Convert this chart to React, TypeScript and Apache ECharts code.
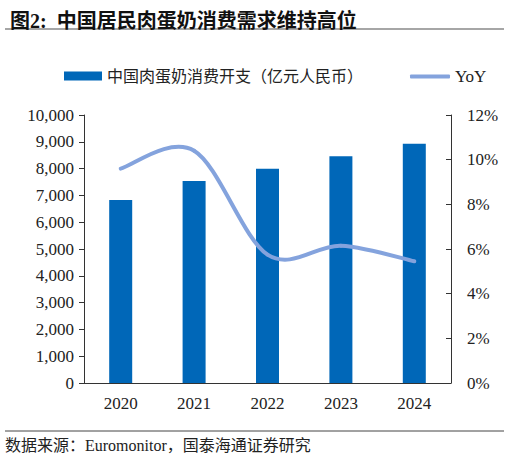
import { useEffect, useRef } from 'react';
import * as echarts from 'echarts';

const years = ['2020', '2021', '2022', '2023', '2024'];
const spending = [6830, 7540, 7990, 8460, 8930];
const yoy = [9.6, 10.4, 5.75, 6.15, 5.45];

const barName = '中国肉蛋奶消费开支（亿元人民币）';
const lineName = 'YoY';

const serif = '"Liberation Serif", "Noto Sans CJK SC", serif';
const lineColor = '#84A3DD';

// Excel-style smoothed line: one Catmull-Rom segment per point, positioned via api.coord
const renderSmoothSegment = (params: any, api: any) => {
  const i = params.dataIndex;
  const n = yoy.length;
  if (i >= n - 1) return null;
  const pt = (k: number) => {
    const j = Math.max(0, Math.min(n - 1, k));
    return api.coord([j, yoy[j]]);
  };
  const p0 = pt(i - 1);
  const p1 = pt(i);
  const p2 = pt(i + 1);
  const p3 = pt(i + 2);
  const c1x = p1[0] + (p2[0] - p0[0]) / 6;
  const c1y = p1[1] + (p2[1] - p0[1]) / 6;
  const c2x = p2[0] - (p3[0] - p1[0]) / 6;
  const c2y = p2[1] - (p3[1] - p1[1]) / 6;
  return {
    type: 'path',
    shape: {
      pathData: `M${p1[0]} ${p1[1]} C${c1x} ${c1y} ${c2x} ${c2y} ${p2[0]} ${p2[1]}`,
    },
    style: { stroke: lineColor, lineWidth: 4, fill: 'none', lineCap: 'round' },
  };
};

export default function App(): JSX.Element {
  const chartRef = useRef<HTMLDivElement>(null);

  useEffect(() => {
    if (!chartRef.current) return;
    document.body.style.margin = '0';
    const chart = echarts.init(chartRef.current, undefined, { renderer: 'svg' });

    const option: echarts.EChartsOption = {
      animation: false,
      title: {
        text: '图2:  中国居民肉蛋奶消费需求维持高位',
        left: 5,
        top: 6,
        textStyle: {
          fontFamily: serif,
          fontSize: 20,
          fontWeight: 'bold',
          color: '#111',
        },
      },
      legend: [
        {
          data: [{ name: barName, icon: 'rect' }],
          left: 59,
          top: 63,
          itemWidth: 38,
          itemHeight: 9,
          itemGap: 6,
          textStyle: { fontFamily: serif, fontSize: 16, color: '#222' },
        },
        {
          data: [{ name: lineName, icon: 'roundRect' }],
          left: 405,
          top: 63,
          itemWidth: 40,
          itemHeight: 4,
          textStyle: { fontFamily: serif, fontSize: 17, color: '#222' },
        },
      ],
      grid: {
        left: 84,
        right: 59,
        top: 115,
        bottom: 75,
      },
      xAxis: {
        type: 'category',
        data: years,
        axisLine: { lineStyle: { color: '#333', width: 1 } },
        axisTick: { inside: true, length: 5, lineStyle: { color: '#333' } },
        axisLabel: {
          fontFamily: serif,
          fontSize: 17,
          color: '#222',
          margin: 12,
        },
      },
      yAxis: [
        {
          type: 'value',
          min: 0,
          max: 10000,
          interval: 1000,
          splitLine: { show: false },
          axisLine: { show: true, lineStyle: { color: '#333' } },
          axisTick: { show: true, length: 5, lineStyle: { color: '#333' } },
          axisLabel: {
            fontFamily: serif,
            fontSize: 17,
            color: '#222',
            margin: 10,
            formatter: (v: number) => v.toLocaleString('en-US'),
          },
        },
        {
          type: 'value',
          min: 0,
          max: 12,
          interval: 2,
          splitLine: { show: false },
          axisLine: { show: true, lineStyle: { color: '#333' } },
          axisTick: { show: true, inside: true, length: 5, lineStyle: { color: '#333' } },
          axisLabel: {
            fontFamily: serif,
            fontSize: 17,
            color: '#222',
            margin: 16,
            formatter: '{value}%',
          },
        },
      ],
      series: [
        {
          name: barName,
          type: 'bar',
          data: spending,
          barWidth: 23,
          itemStyle: { color: '#0067B8' },
        },
        {
          name: lineName,
          type: 'custom',
          yAxisIndex: 1,
          data: yoy.map((v, i) => [i, v]),
          encode: { x: 0, y: 1 },
          renderItem: renderSmoothSegment,
          itemStyle: { color: lineColor },
          z: 3,
        },
      ],
      graphic: [
        {
          type: 'line',
          shape: { x1: 5, y1: 29, x2: 504, y2: 29 },
          style: { stroke: '#888', lineWidth: 1.5 },
        },
        {
          type: 'line',
          shape: { x1: 5, y1: 431, x2: 504, y2: 431 },
          style: { stroke: '#444', lineWidth: 1 },
        },
        {
          type: 'text',
          left: 5,
          top: 437,
          style: {
            text: '数据来源：Euromonitor，国泰海通证券研究',
            font: `16px ${serif}`,
            fill: '#222',
          },
        },
      ],
    };

    chart.setOption(option);

    return () => {
      chart.dispose();
    };
  }, []);

  return <div ref={chartRef} style={{ width: 510, height: 458 }} />;
}
